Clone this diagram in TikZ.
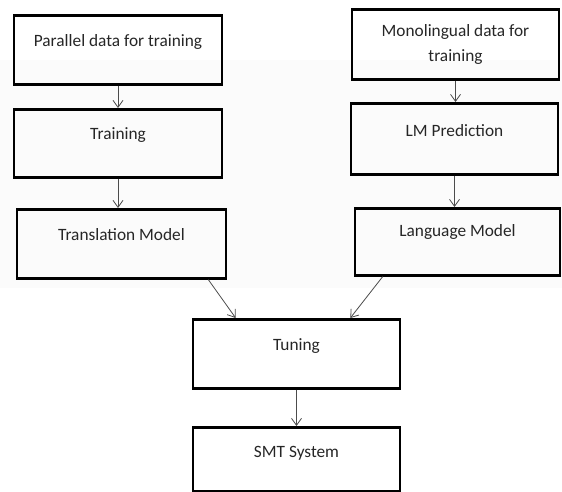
\documentclass[tikz,border=0pt]{standalone}
\usepackage{fontspec}
\setmainfont{Carlito}
\usetikzlibrary{arrows.meta}

\tikzset{
    box/.style={draw, line width=2.6pt, rectangle, inner xsep=0pt, inner ysep=0pt,
        minimum width=207pt, text height=31pt, text depth=38pt, anchor=north,
        font=\fontsize{17.3}{24.5}\selectfont, text=black!85},
    flow/.style={draw=black!70, line width=0.8pt, -{Straight Barb[length=7pt,width=10pt]}}
}

\begin{document}
\begin{tikzpicture}[x=1pt, y=-1pt]
        \useasboundingbox (0, 0) rectangle (562, 491);
        % Faint shaded band behind the middle rows
        \fill[black!1.5] (0, 60) rectangle (562, 288);

        % Draw the parallel side
        \node[box, minimum width=208pt] (par) at (118, 14) {Parallel data for training};
        \node[box, minimum width=208pt, text height=30pt] (train) at (118, 108) {Training};
        \node[box, minimum width=209pt] (trans) at (121.5, 208) {Translation Model};

        % Draw the monolingual side
        \node[box, text height=, text depth=, minimum height=70pt, align=center] (mono) at (455.5, 8) {Monolingual data for\\training};
        \node[box, text height=33pt, text depth=38pt] (lmp) at (454.5, 102) {LM Prediction};
        \node[box, minimum width=205pt, text height=28pt, text depth=39pt] (lang) at (457.5, 207) {Language Model};

        % Draw the joint part
        \node[box] (tune) at (296.5, 318) {Tuning};
        \node[box, text height=30pt, text depth=34pt] (smt) at (296.5, 426) {SMT System};

        % Arrows between the boxes
        \draw[flow] (par.south) -- (train.north);
        \draw[flow] (train.south) -- (train.south |- trans.north);
        \draw[flow] (mono.south) -- (mono.south |- lmp.north);
        \draw[flow] (lmp.south) -- (lmp.south |- lang.north);
        \draw[flow] ([xshift=-19pt]trans.south east) -- ([xshift=44pt]tune.north west);
        \draw[flow] ([xshift=29pt]lang.south west) -- ([xshift=-51pt]tune.north east);
        \draw[flow] (tune.south) -- (smt.north);

\end{tikzpicture}
\end{document}
